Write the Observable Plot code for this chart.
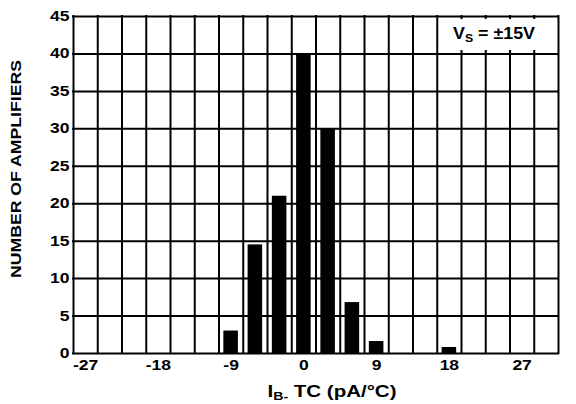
<!DOCTYPE html>
<html>
<head>
<meta charset="utf-8">
<script src="https://cdn.jsdelivr.net/npm/d3@7"></script>
<script src="https://cdn.jsdelivr.net/npm/@observablehq/plot@0.6"></script>
<style>
  body { margin: 0; background: #fff; }
  #chart svg { display: block; }
</style>
</head>
<body>
<div id="chart"></div>
<script>
// Distribution of input bias current temperature coefficient (IB- TC)
const binCenters = [-9, -6, -3, 0, 3, 6, 9, 18];          // pA/°C, 3 pA/°C bins
const amplifierCounts = [3, 14.5, 21, 40, 30, 6.8, 1.6, 0.8];
const xTickValues = [-27, -18, -9, 0, 9, 18, 27];
const yTickValues = [0, 5, 10, 15, 20, 25, 30, 35, 40, 45];
const xTitle = { main: "I", sub: "B-", rest: " TC (pA/°C)" };
const yTitle = "NUMBER OF AMPLIFIERS";
const condition = { main: "V", sub: "S", rest: " = ±15V" };

const binStep = 3;
const barHalfWidth = 0.9;
const xDomain = [-28.5, 31.5];
const gridX = d3.range(xDomain[0], xDomain[1] + 0.001, binStep);

const bars = binCenters.map((c, i) => ({ tc: c, count: amplifierCounts[i] }));

const font = "Liberation Sans";
const widen = 1.25; // horizontal stretch applied to the bold lettering

const chart = Plot.plot({
  width: 576,
  height: 404,
  marginLeft: 73,
  marginRight: 18,
  marginTop: 16,
  marginBottom: 51,
  style: { fontFamily: font, fontWeight: "bold", fontSize: "14px", color: "black", background: "white" },
  x: { domain: xDomain },
  y: { domain: [0, 45] },
  marks: [
    Plot.ruleX(gridX, { stroke: "black", strokeWidth: 2, strokeLinecap: "square" }),
    Plot.ruleY(yTickValues, { stroke: "black", strokeWidth: 2, strokeLinecap: "square" }),
    Plot.rectY(bars, {
      x1: d => d.tc - barHalfWidth,
      x2: d => d.tc + barHalfWidth,
      y1: 0,
      y2: "count",
      fill: "black"
    }),
    Plot.axisX({ ticks: xTickValues, tickFormat: d => String(d), tickSize: 0, tickPadding: 7, label: null, fontSize: 14, fontWeight: "bold" }),
    Plot.axisY({ ticks: yTickValues, tickFormat: d => String(d), tickSize: 0, tickPadding: 4, label: null, fontSize: 14, fontWeight: "bold" })
  ]
});

document.getElementById("chart").append(chart);

const svg = d3.select(chart);

function stretch(node, length) {
  node.setAttribute("textLength", length);
  node.setAttribute("lengthAdjust", "spacingAndGlyphs");
}

// Widen tick labels
svg.selectAll("g[aria-label='x-axis tick label'] text, g[aria-label='y-axis tick label'] text")
  .each(function () { stretch(this, this.getComputedTextLength() * widen); });

// Axis titles
const xt = svg.append("text")
  .attr("x", 332).attr("y", 397)
  .attr("text-anchor", "middle")
  .attr("font-family", font).attr("font-weight", "bold").attr("font-size", 16)
  .attr("fill", "black");
xt.append("tspan").text(xTitle.main);
xt.append("tspan").attr("font-size", 11).attr("dy", 3).text(xTitle.sub);
xt.append("tspan").attr("dy", -3).text(xTitle.rest);
stretch(xt.node(), 129);

const yt = svg.append("text")
  .attr("transform", "translate(20.5,169) rotate(-90)")
  .attr("text-anchor", "middle")
  .attr("font-family", font).attr("font-weight", "bold").attr("font-size", 15)
  .attr("fill", "black")
  .text(yTitle);
stretch(yt.node(), 218);

// Supply condition annotation with a white backing box
svg.append("rect")
  .attr("x", 446).attr("y", 19).attr("width", 92).attr("height", 31)
  .attr("fill", "white");
const ct = svg.append("text")
  .attr("x", 494).attr("y", 38.5)
  .attr("text-anchor", "middle")
  .attr("font-family", font).attr("font-weight", "bold").attr("font-size", 16)
  .attr("fill", "black");
ct.append("tspan").text(condition.main);
ct.append("tspan").attr("font-size", 11).attr("dy", 3).text(condition.sub);
ct.append("tspan").attr("dy", -3).text(condition.rest);
stretch(ct.node(), 82);
</script>
</body>
</html>
